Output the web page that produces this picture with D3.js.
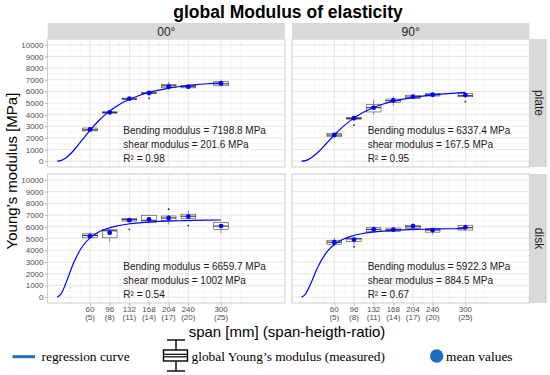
<!DOCTYPE html>
<html>
<head>
<meta charset="utf-8">
<script src="https://cdn.jsdelivr.net/npm/d3@7"></script>
<style>
body { margin: 0; background: #fff; }
text { font-family: "Liberation Sans", Arial, sans-serif; }
</style>
</head>
<body>
<div id="vis" style="width:550px;height:375px"></div>
<script>
// ---- data ----
var spans = [60, 96, 132, 168, 204, 240, 300];
var ratios = [5, 8, 11, 14, 17, 20, 25];
var yTicks = [0, 1000, 2000, 3000, 4000, 5000, 6000, 7000, 8000, 9000, 10000];
var colLabels = ["00°", "90°"];
var rowLabels = ["plate", "disk"];

// box stats per span: [lower whisker, q1, median, q3, upper whisker]
var box00plate = [[2550, 2600, 2700, 2850, 2900], [4100, 4130, 4180, 4250, 4300], [5270, 5300, 5350, 5420, 5450],
    [5700, 5800, 5850, 5900, 5950], [6100, 6310, 6480, 6600, 6820], [6200, 6300, 6400, 6500, 6550], [6420, 6480, 6650, 6850, 6990]];
var box90plate = [[2050, 2100, 2245, 2390, 2420], [3580, 3610, 3680, 3750, 3790], [4030, 4230, 4600, 4890, 5290],
    [4780, 5060, 5200, 5340, 5570], [5340, 5370, 5510, 5650, 5700], [5560, 5600, 5710, 5820, 5860], [5500, 5540, 5630, 5820, 5870]];
var box00disk = [[5000, 5060, 5260, 5400, 5520], [4720, 5060, 5660, 5750, 5780], [6400, 6490, 6610, 6720, 6800],
    [6300, 6400, 6550, 6980, 7020], [6200, 6550, 6750, 6920, 7000], [6700, 6720, 6900, 7070, 7330], [5430, 5780, 6060, 6350, 6400]];
var box90disk = [[4340, 4510, 4680, 4850, 5060], [4450, 4740, 4970, 5030, 5060], [5520, 5600, 5780, 5920, 6060],
    [5540, 5580, 5750, 5890, 5920], [5860, 5860, 6000, 6120, 6290], [5320, 5540, 5720, 5830, 5860], [5660, 5720, 5920, 6120, 6210]];

var mean00plate = [2730, 4200, 5370, 5860, 6420, 6400, 6680];
var mean90plate = [2250, 3690, 4600, 5230, 5540, 5710, 5680];
var mean00disk = [5200, 5490, 6560, 6620, 6750, 6870, 6060];
var mean90disk = [4680, 4910, 5780, 5750, 6060, 5720, 5950];

// outliers: [span, value]
var out00plate = [[168, 5400]];
var out90plate = [[96, 3120], [300, 5120]];
var out00disk = [[132, 5780], [204, 7500], [240, 6100]];
var out90disk = [[96, 4300]];

// regression curve, read at these spans
var curveX = [0, 7.5, 15, 30, 45, 60, 75, 90, 110, 130, 150, 175, 200, 225, 250, 275, 300];
var curve00plate = [0, 65, 253, 916, 1779, 2652, 3433, 4086, 4768, 5273, 5649, 5992, 6237, 6417, 6552, 6656, 6737];
var curve90plate = [0, 54, 211, 767, 1499, 2250, 2931, 3507, 4114, 4570, 4911, 5222, 5447, 5613, 5737, 5833, 5908];
var curve00disk = [0, 311, 1091, 2926, 4250, 5049, 5530, 5833, 6082, 6236, 6336, 6419, 6474, 6512, 6540, 6560, 6576];
var curve90disk = [0, 275, 964, 2591, 3769, 4482, 4912, 5182, 5405, 5543, 5633, 5707, 5756, 5790, 5815, 5833, 5847];

var bendingMod = ["7198.8", "6337.4", "6659.7", "5922.3"];
var shearMod = ["201.6", "167.5", "1002", "884.5"];
var rSquared = ["0.98", "0.95", "0.54", "0.67"];

var panels = [
    { col: 0, row: 0, box: box00plate, mean: mean00plate, out: out00plate, curve: curve00plate },
    { col: 1, row: 0, box: box90plate, mean: mean90plate, out: out90plate, curve: curve90plate },
    { col: 0, row: 1, box: box00disk, mean: mean00disk, out: out00disk, curve: curve00disk },
    { col: 1, row: 1, box: box90disk, mean: mean90disk, out: out90disk, curve: curve90disk }
];

// ---- layout ----
var colX = [47.7, 292];
var panelW = 237.3;
var rowY = [39, 174];
var panelH = [128, 129];
var minorX = [24, 42, 78, 114, 150, 186, 222, 270, 318, 336];
var minorY = [500, 1500, 2500, 3500, 4500, 5500, 6500, 7500, 8500, 9500, 10500];

var svg = d3.select('#vis')
    .append('svg')
    .attr('width', 550)
    .attr('height', 375);

svg.append('rect').attr('width', 550).attr('height', 375).style('fill', 'white');

panels.forEach(function(p, i) {
    var x0 = colX[p.col], y0 = rowY[p.row], h = panelH[p.row];
    var x = d3.scaleLinear().domain([-17.5, 417]).range([x0, x0 + panelW]);
    var y = d3.scaleLinear().domain([-500, 10500]).range([y0 + h, y0]);

    var g = svg.append('g');
    g.append('rect').attr('x', x0).attr('y', y0).attr('width', panelW).attr('height', h)
        .style('fill', 'white');

    // grid
    g.selectAll('.minx').data(minorX).enter().append('line')
        .attr('x1', d => x(d)).attr('x2', d => x(d)).attr('y1', y0).attr('y2', y0 + h)
        .style('stroke', '#efefef').style('stroke-width', 0.5);
    g.selectAll('.miny').data(minorY).enter().append('line')
        .attr('x1', x0).attr('x2', x0 + panelW).attr('y1', d => y(d)).attr('y2', d => y(d))
        .style('stroke', '#efefef').style('stroke-width', 0.5);
    g.selectAll('.majx').data(spans).enter().append('line')
        .attr('x1', d => x(d)).attr('x2', d => x(d)).attr('y1', y0).attr('y2', y0 + h)
        .style('stroke', '#dedede').style('stroke-width', 0.7);
    g.selectAll('.majy').data(yTicks).enter().append('line')
        .attr('x1', x0).attr('x2', x0 + panelW).attr('y1', d => y(d)).attr('y2', d => y(d))
        .style('stroke', '#dedede').style('stroke-width', 0.7);

    // boxplots
    var bw = 13.5;
    var boxes = g.selectAll('.box').data(p.box).enter().append('g');
    boxes.append('line')
        .attr('x1', (d, j) => x(spans[j])).attr('x2', (d, j) => x(spans[j]))
        .attr('y1', d => y(d[0])).attr('y2', d => y(d[1]))
        .style('stroke', '#444').style('stroke-width', 0.6);
    boxes.append('line')
        .attr('x1', (d, j) => x(spans[j])).attr('x2', (d, j) => x(spans[j]))
        .attr('y1', d => y(d[3])).attr('y2', d => y(d[4]))
        .style('stroke', '#444').style('stroke-width', 0.6);
    boxes.append('rect')
        .attr('x', (d, j) => x(spans[j] - bw)).attr('width', (d, j) => x(spans[j] + bw) - x(spans[j] - bw))
        .attr('y', d => y(d[3])).attr('height', d => Math.max(y(d[1]) - y(d[3]), 0.5))
        .style('fill', 'white').style('stroke', '#444').style('stroke-width', 0.6);
    boxes.append('line')
        .attr('x1', (d, j) => x(spans[j] - bw)).attr('x2', (d, j) => x(spans[j] + bw))
        .attr('y1', d => y(d[2])).attr('y2', d => y(d[2]))
        .style('stroke', '#333').style('stroke-width', 1.1);

    g.selectAll('.out').data(p.out).enter().append('circle')
        .attr('cx', d => x(d[0])).attr('cy', d => y(d[1])).attr('r', 0.9)
        .style('fill', '#222');

    // regression curve
    var line = d3.line()
        .x((d, j) => x(curveX[j]))
        .y(d => y(d))
        .curve(d3.curveMonotoneX);
    g.append('path').datum(p.curve).attr('d', line)
        .style('fill', 'none').style('stroke', '#0000ff').style('stroke-width', 1.2);

    g.selectAll('.mean').data(p.mean).enter().append('circle')
        .attr('cx', (d, j) => x(spans[j])).attr('cy', d => y(d)).attr('r', 2.4)
        .style('fill', '#0000ff');

    // annotation
    var ann = ['Bending modulus = ' + bendingMod[i] + ' MPa', 'shear modulus = ' + shearMod[i] + ' MPa', 'R² = ' + rSquared[i]];
    var annY = [2340, 1090, -60];
    g.selectAll('.ann').data(ann).enter().append('text')
        .attr('x', x(121)).attr('y', (d, j) => y(annY[j]))
        .text(d => d)
        .style('font-size', '10px').style('fill', '#1a1a1a');

    g.append('rect').attr('x', x0).attr('y', y0).attr('width', panelW).attr('height', h)
        .style('fill', 'none').style('stroke', '#b8b8b8').style('stroke-width', 0.7);

    // axes
    if (p.col == 0) {
        var ya = g.append('g').attr('transform', 'translate(' + x0 + ',0)')
            .call(d3.axisLeft(y).tickValues(yTicks).tickFormat(d3.format('d')).tickSize(2.7).tickPadding(1.5));
        ya.select('.domain').remove();
        ya.selectAll('line').style('stroke', '#b3b3b3');
        ya.selectAll('text').style('font-size', '8px').style('fill', '#4d4d4d')
            .style('font-family', '"Liberation Sans", Arial, sans-serif');
    }
    if (p.row == 1) {
        var xa = g.append('g').attr('transform', 'translate(0,' + (y0 + h) + ')')
            .call(d3.axisBottom(x).tickValues(spans).tickSize(2.7).tickFormat(''));
        xa.select('.domain').remove();
        xa.selectAll('line').style('stroke', '#b3b3b3');
        var lab = g.selectAll('.xl').data(spans).enter().append('text')
            .attr('text-anchor', 'middle')
            .style('font-size', '8px').style('fill', '#4d4d4d');
        lab.append('tspan').attr('x', d => x(d)).attr('y', y0 + h + 8.7).text(d => d);
        lab.append('tspan').attr('x', d => x(d)).attr('y', y0 + h + 16.7).text((d, j) => '(' + ratios[j] + ')');
    }

    // strips
    if (p.row == 0) {
        g.append('rect').attr('x', x0).attr('y', 23).attr('width', panelW).attr('height', 16)
            .style('fill', '#d9d9d9');
        g.append('text').attr('x', x0 + panelW / 2).attr('y', 35.5).attr('text-anchor', 'middle')
            .text(colLabels[p.col]).style('font-size', '12px').style('fill', '#1a1a1a');
    }
    if (p.col == 1) {
        g.append('rect').attr('x', 530).attr('y', y0).attr('width', 17).attr('height', h)
            .style('fill', '#d9d9d9');
        g.append('text').attr('text-anchor', 'middle')
            .attr('transform', 'translate(' + 534.5 + ',' + (y0 + h / 2) + ')rotate(90)')
            .text(rowLabels[p.row]).style('font-size', '12px').style('fill', '#1a1a1a');
    }
});

// titles
svg.append('text').text('global Modulus of elasticity').attr('x', 288).attr('y', 18)
    .attr('text-anchor', 'middle').style('font-size', '17.5px').style('font-weight', 'bold');
svg.append('text').text('Young\u2019s modulus [MPa]').attr('text-anchor', 'middle')
    .attr('transform', 'translate(17,171)rotate(-90)').style('font-size', '15px');
svg.append('text').text('span [mm] (span-heigth-ratio)').attr('x', 287).attr('y', 337)
    .attr('text-anchor', 'middle').style('font-size', '15px');

// legend
var leg = svg.append('g');
leg.append('line').attr('x1', 12.5).attr('x2', 35).attr('y1', 356.7).attr('y2', 356.7)
    .style('stroke', '#1b6ec2').style('stroke-width', 3);
leg.append('text').attr('x', 41.5).attr('y', 360.5).text('regression curve')
    .style('font-size', '13.4px').style('font-family', '"Liberation Serif", serif');
leg.append('line').attr('x1', 176).attr('x2', 176).attr('y1', 340).attr('y2', 371)
    .style('stroke', 'black').style('stroke-width', 1.4);
leg.append('line').attr('x1', 167).attr('x2', 185).attr('y1', 340).attr('y2', 340)
    .style('stroke', 'black').style('stroke-width', 1.4);
leg.append('line').attr('x1', 167).attr('x2', 185).attr('y1', 371).attr('y2', 371)
    .style('stroke', 'black').style('stroke-width', 1.4);
leg.append('rect').attr('x', 163.5).attr('y', 350).attr('width', 24).attr('height', 11)
    .style('fill', 'white').style('stroke', 'black').style('stroke-width', 1.4);
leg.append('line').attr('x1', 163.5).attr('x2', 187.5).attr('y1', 354.3).attr('y2', 354.3)
    .style('stroke', 'black').style('stroke-width', 1.2);
leg.append('line').attr('x1', 163.5).attr('x2', 187.5).attr('y1', 356.8).attr('y2', 356.8)
    .style('stroke', 'black').style('stroke-width', 1.2);
leg.append('text').attr('x', 191.5).attr('y', 360.5).text('global Young\u2019s modulus (measured)')
    .style('font-size', '13.4px').style('font-family', '"Liberation Serif", serif');
leg.append('circle').attr('cx', 436.7).attr('cy', 356).attr('r', 6.7).style('fill', '#1b6ec2');
leg.append('text').attr('x', 446).attr('y', 360.5).text('mean values')
    .style('font-size', '13.4px').style('font-family', '"Liberation Serif", serif');
</script>
</body>
</html>
